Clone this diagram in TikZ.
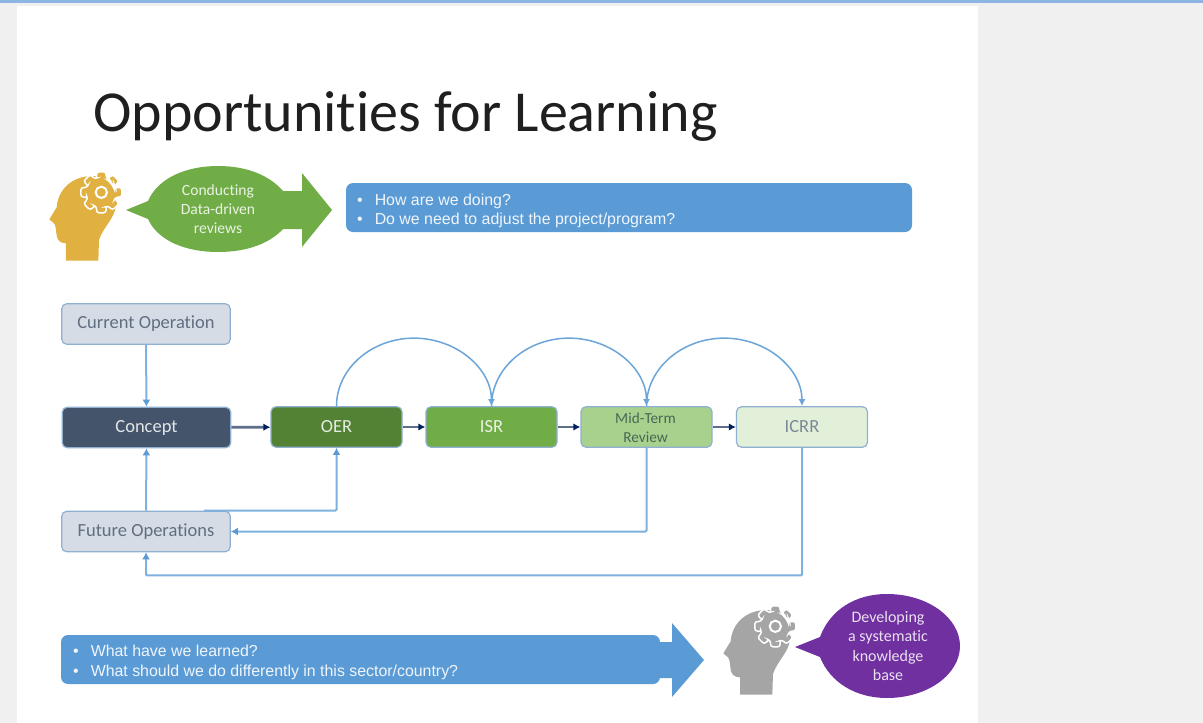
\documentclass[tikz,border=0pt]{standalone}
\usepackage{fontspec}
\setmainfont[Ligatures=CommonOff]{Carlito}
\newfontfamily\arialf{Liberation Sans}
\usetikzlibrary{arrows.meta,calc}
\definecolor{bluefill}{HTML}{5B9BD5}
\definecolor{linkblue}{HTML}{7DB1E0}
\definecolor{boxline}{HTML}{8FB0D0}
\definecolor{pale}{HTML}{D6DCE5}
\definecolor{slate}{HTML}{44546A}
\definecolor{gA}{HTML}{548235}
\definecolor{gB}{HTML}{70AD47}
\definecolor{gC}{HTML}{A9D18E}
\definecolor{gD}{HTML}{E2F0D9}
\definecolor{gold}{HTML}{E0B040}
\definecolor{headgrey}{HTML}{A5A5A5}
\definecolor{purp}{HTML}{7030A0}
\definecolor{navy}{HTML}{002060}
\definecolor{stripe}{HTML}{8DB4E2}
\tikzset{
  x=1pt,y=-1pt,
  flowbox/.style={draw=boxline,line width=1.2pt,rounded corners=5pt,minimum height=40.5pt,inner sep=0pt,font=\fontsize{18.5}{20}\selectfont,align=center},
  wide/.style={flowbox,minimum width=168.5pt},
  narrow/.style={flowbox,minimum width=131pt},
  link/.style={draw=linkblue,line width=2pt,rounded corners=1pt,-{Latex[length=7pt,width=8pt,color=bluefill]}},
  arc link/.style={draw=bluefill!90,line width=1.5pt,-{Latex[length=7pt,width=7pt]}},
  step link/.style={draw=slate!60!navy!75,line width=2.8pt,-{Latex[length=7pt,width=7.5pt,color=navy]}},
  banner/.style={text=white!90!bluefill,anchor=west,align=left,font=\arialf\fontsize{15.9}{19.5}\selectfont,inner sep=0pt},
  call/.style={text=white!85!gB,align=center,inner sep=0pt,font=\fontsize{15.6}{19}\selectfont},
}
\newcommand{\headicon}[3]{%
  \begin{scope}[shift={(#1,#2)},x=0.3333pt,y=-0.3333pt]
    \fill[#3] (108,302) -- (108,250) .. controls (90,250) and (80,240) .. (79,220)
      .. controls (78,205) and (76,195) .. (72,190) -- (58,178) -- (80,142)
      .. controls (82,100) and (115,50) .. (185,48)
      .. controls (240,46) and (262,95) .. (258,135)
      .. controls (255,175) and (220,200) .. (207,240) -- (205,302) -- cycle;
    \begin{scope}[shift={(214,97)}]
      \fill[#3,draw=white,line width=1.5pt,rounded corners=2.5pt]
        \foreach \a in {0,45,...,315}{
          (\a-19:45) -- (\a-13:63) -- (\a+13:63) -- (\a+19:45) -- (\a+26:45)
        } -- cycle;
      \draw[white,line width=2pt] (0,0) circle (17);
    \end{scope}
  \end{scope}}
\begin{document}
\begin{tikzpicture}
\useasboundingbox (0,0) rectangle (1203,723);
\fill[black!6] (0,0) rectangle (1203,723);
\fill[white] (17,6) rectangle (978,723);
\fill[stripe] (0,0) rectangle (1203,2.5);
\node[anchor=base west,inner sep=0pt,font=\fontsize{58}{66}\selectfont,text=black!88] (title) at (93,131) {Opportunities for Learning};

% top band
\headicon{30}{160}{gold}
\fill[gB] (126,210) -- (148,201) .. controls (158,178) and (186,166) .. (218,166)
  .. controls (248,166) and (270,176) .. (283,191) -- (302,191) -- (302,173) -- (332,210) -- (302,247) -- (302,229) -- (283,229)
  .. controls (270,243) and (248,252) .. (218,252)
  .. controls (186,252) and (158,241) .. (148,219) -- cycle;
\node[call] (review) at (218,209) {Conducting\\Data-driven\\reviews};
\fill[bluefill,rounded corners=7pt] (346,183) rectangle (912,232);
\node[banner] (doing) at (357,211) {•\hspace{12pt}How are we doing?\\•\hspace{12pt}Do we need to adjust the project/program?};

% flow
\node[wide,fill=pale,text=slate!85] (current) at (146,324) {Current Operation};
\node[wide,fill=slate,text=white!85!slate] (concept) at (146.5,427.5) {Concept};
\node[narrow,fill=gA,text=white!85!gA] (oer) at (336.5,427) {OER};
\node[narrow,fill=gB,text=white!85!gB] (isr) at (491.5,427) {ISR};
\node[narrow,fill=gC] (mid) at (646.5,427) {};
\node[font=\fontsize{15.3}{19.5}\selectfont,align=center,text=slate!60!gA,inner sep=0pt] (midtext) at (645.5,427.5) {Mid-Term\\Review};
\node[narrow,fill=gD,text=slate!70] (icrr) at (802,427) {ICRR};
\node[wide,fill=pale,text=slate!85] (future) at (146,531.5) {Future Operations};

\draw[step link] (concept) -- (oer);
\draw[step link] (oer) -- (isr);
\draw[step link] (isr) -- (mid);
\draw[step link] (mid) -- (icrr);
\draw[link] (current) -- (concept);
\draw[link] (future) -- (concept);
\coordinate (futoff) at (204,510.5);
\draw[link] (futoff) -| (oer.south);
\draw[link] (mid.south) |- (future.east);
\draw[link] (icrr.south) |- ($(future.south)+(0,23)$) -- (future.south);
\coordinate (topA) at ($(oer.north)!.5!(isr.north)+(0,-68)$);
\coordinate (topB) at ($(isr.north)!.5!(mid.north)+(0,-68)$);
\coordinate (topC) at ($(mid.north)!.5!(icrr.north)+(0,-68)$);
\draw[arc link] (oer.north) .. controls +(0,-37.4) and +(-42.6,0) .. (topA) .. controls +(42.6,0) and +(0,-37.4) .. (isr.north);
\draw[arc link] (isr.north) .. controls +(0,-37.4) and +(-42.6,0) .. (topB) .. controls +(42.6,0) and +(0,-37.4) .. (mid.north);
\draw[arc link] (mid.north) .. controls +(0,-37.4) and +(-42.6,0) .. (topC) .. controls +(42.6,0) and +(0,-37.4) .. (icrr.north);

% bottom band
\fill[bluefill,rounded corners=7pt] (61,635) rectangle (660,684);
\fill[bluefill] (650,642) -- (672,642) -- (672,623) -- (704,660) -- (672,697) -- (672,678) -- (650,678) -- cycle;
\node[banner] (learned) at (73,662.5) {•\hspace{12pt}What have we learned?\\•\hspace{12pt}What should we do differently in this sector/country?};
\headicon{704}{594}{headgrey}
\fill[purp] (795,647) -- (820,637) .. controls (830,610) and (855,594) .. (887,594)
  .. controls (928,594) and (960,618) .. (960,646)
  .. controls (960,674) and (928,698) .. (887,698)
  .. controls (855,698) and (830,682) .. (820,657) -- cycle;
\node[call,text=white!85!purp,font=\fontsize{16}{19.3}\selectfont] (develop) at (888,646) {Developing\\a systematic\\knowledge\\base};
\end{tikzpicture}
\end{document}
